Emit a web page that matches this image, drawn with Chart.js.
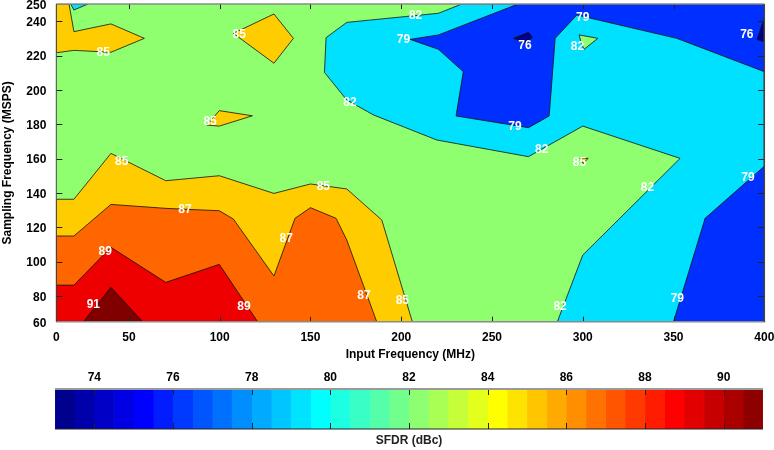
<!DOCTYPE html>
<html><head><meta charset="utf-8">
<script src="https://cdn.jsdelivr.net/npm/chart.js@4"></script>
<style>
html,body{margin:0;padding:0;background:#fff;}
#wrap{position:relative;width:774px;height:450px;overflow:hidden;}
#c1{position:absolute;left:0;top:0;}
#c2{position:absolute;left:0;top:362px;}
</style></head><body>
<div id="wrap">
<canvas id="c1" width="774" height="362"></canvas>
<canvas id="c2" width="774" height="88"></canvas>
</div>
<script>
// ---------- axes ----------
const xTickValues = [10, 50, 100, 150, 200, 250, 300, 350, 400];
const xTickLabels = ['0', '50', '100', '150', '200', '250', '300', '350', '400'];
const yTickValues = [65, 80, 100, 120, 140, 160, 180, 200, 220, 240, 250];
const yTickLabels = ['60', '80', '100', '120', '140', '160', '180', '200', '220', '240', '250'];
const xMarkValues = [50, 100, 150, 200, 250, 300, 350];
const yMarkValues = [80, 100, 120, 140, 160, 180, 200, 220, 240];
const cbTickValues = [74, 76, 78, 80, 82, 84, 86, 88, 90];
const cbMin = 73, cbMax = 91, cbBands = 36;

// ---------- contour regions (MHz, MSPS) ----------
const region82to85 = [[10,65],[400,65],[400,250],[10,250],[10,65]];
const regionBelow82 = [[233.4,250],[220.5,244.6],[170,239.3],[158.6,230.4],[157.7,210.2],[170,194.1],[184.7,185.4],[219.6,170.8],[270.1,161.1],[300,178.9],[353.6,160.1],[300,103.8],[286,65],[400,65],[400,250],[233.4,250]];
const islandAbove82 = [[298,232],[308.3,230],[300.7,223.6],[299,227.9],[298,232]];
const tinyAbove85 = [[298.4,160.1],[303,160.1],[300.2,157.2],[298.4,160.1]];
const regionBelow79Top = [[264.4,250],[220.5,232],[204.9,229.4],[220.5,223.6],[234.2,210.6],[230.2,184.8],[270.1,178],[281.5,184.8],[284.8,230],[296.7,243.6],[351.8,230],[400,210.6],[400,250],[264.4,250]];
const regionBelow76A = [[261.8,230],[270.1,233.5],[272.3,230.6],[268.3,227.1],[261.8,230]];
const regionBelow76B = [[400,241.7],[396,229.4],[400,228],[400,241.7]];
const regionBelow79Bottom = [[400,155.5],[367.4,125.2],[350,65],[400,65],[400,155.5]];
const cornerBelow82 = [[17.9,250],[27.5,250],[19.7,246.5],[17.9,250]];
const above85TopLeft = [[10,250],[17,250],[19.7,233.9],[40.1,238.4],[58.5,230],[40.1,221.9],[19.7,223],[10,221.6],[10,250]];
const above85Diamond = [[107.5,232.9],[129.9,244.2],[140.6,230],[129.9,215.5],[107.5,232.9]];
const above85Small = [[92.9,179.5],[99.8,187.9],[118,184.9],[99.8,178.9],[92.9,179.5]];
const above85Bottom = [[10,65],[10,136.3],[19.7,136.3],[40.1,163],[70.3,147.1],[99.8,150],[129.9,139.7],[150,145.2],[170,142.3],[189.3,124.2],[206.1,65],[10,65]];
const above87 = [[10,65],[10,114.9],[19.7,114.9],[40.1,133.3],[70.3,131],[99.8,129.6],[107.5,124.8],[129.9,91.6],[141.5,125.2],[150,131.4],[164.1,125.2],[170,112.6],[186.5,65],[10,65]];
const above89 = [[10,65],[10,86.3],[19.7,86.3],[40.1,108.3],[70.3,87.9],[99.8,98.4],[120.9,65],[10,65]];
const above91 = [[24.9,65],[40.1,85],[57.6,65],[24.9,65]];

// ---------- contour labels ----------
const contourLabelText = ['85','85','82','79','76','82','79','76','85','82','79','82','85','85','85','82','79','87','87','89','87','85','91','89','82','79'];
const contourLabelX = [35.8,110.8,207.9,201.2,268.2,297.1,300.0,390.4,94.7,171.8,262.7,277.4,298.2,46.0,157.1,335.6,391.0,80.9,136.6,36.9,179.5,200.6,30.4,113.4,287.5,352.1];
const contourLabelY = [221.6,232.3,243.2,229.0,225.7,225.1,242.2,232.3,181.5,192.5,178.4,165.0,157.6,158.2,143.7,143.3,149.0,130.0,113.1,105.8,80.3,77.0,74.8,73.7,73.6,78.3];

// ---------- colors ----------
const C = {navy:'#00008c', blue:'#0030ff', cyan:'#00e0ff', green:'#8fff70', yellow:'#ffcc00', orange:'#ff6600', red:'#ee0000', dred:'#800000'};

const layers = [
  [region82to85, C.green, false],
  [regionBelow82, C.cyan, true],
  [islandAbove82, C.green, true],
  [tinyAbove85, C.yellow, true],
  [regionBelow79Top, C.blue, true],
  [regionBelow76A, C.navy, true],
  [regionBelow76B, C.navy, true],
  [regionBelow79Bottom, C.blue, true],
  [cornerBelow82, C.cyan, true],
  [above85TopLeft, C.yellow, true],
  [above85Diamond, C.yellow, true],
  [above85Small, C.yellow, true],
  [above85Bottom, C.yellow, true],
  [above87, C.orange, true],
  [above89, C.red, true],
  [above91, C.dred, true]
];

const FONT = '"Liberation Sans", Arial, Helvetica, sans-serif';
const boldFont = {family: FONT, size: 12, weight: 'bold'};

const datasets = layers.map((L, i) => ({
  data: L[0].map(([x, y]) => ({x, y})),
  backgroundColor: L[1],
  borderColor: L[2] ? '#111' : 'rgba(0,0,0,0)',
  borderWidth: L[2] ? 0.8 : 0,
  fill: 'shape',
  pointRadius: 0,
  tension: 0,
  order: layers.length - i
}));

const zeroPad = s => { s.paddingTop = 0; s.paddingBottom = 0; s.paddingLeft = 0; s.paddingRight = 0; };

const overlayPlugin = {
  id: 'overlay',
  afterDatasetsDraw(chart) {
    const {ctx, chartArea: a, scales: {x, y}} = chart;
    ctx.save();
    ctx.font = 'bold 12px ' + FONT;
    ctx.fillStyle = '#fff';
    ctx.textAlign = 'center';
    ctx.textBaseline = 'middle';
    contourLabelText.forEach((t, i) => ctx.fillText(t, x.getPixelForValue(contourLabelX[i]), y.getPixelForValue(contourLabelY[i])));
    const ln = (x1, y1, x2, y2) => { ctx.beginPath(); ctx.moveTo(x1, y1); ctx.lineTo(x2, y2); ctx.stroke(); };
    ctx.strokeStyle = '#222'; ctx.lineWidth = 1;
    xMarkValues.forEach(v => {
      const p = Math.round(x.getPixelForValue(v)) + 0.5;
      ln(p, a.bottom, p, a.bottom - 5);
      ln(p, a.top, p, a.top + 5);
    });
    yMarkValues.forEach(v => {
      const p = Math.round(y.getPixelForValue(v)) + 0.5;
      ln(a.left, p, a.left + 6, p);
      ln(a.right, p, a.right - 6, p);
    });
    ctx.strokeStyle = '#8a8a8a'; ctx.lineWidth = 1.5;
    ln(a.left, a.top, a.right, a.top);
    ln(a.left, a.bottom, a.right + 1, a.bottom);
    ctx.strokeStyle = '#444'; ctx.lineWidth = 1;
    ln(a.left, a.top, a.left, a.bottom);
    ctx.lineWidth = 1.5;
    ln(a.right, a.top, a.right, a.bottom);
    ctx.restore();
  }
};

new Chart(document.getElementById('c1'), {
  type: 'line',
  data: {datasets},
  options: {
    responsive: false, animation: false,
    layout: {autoPadding: false, padding: {top: 4, right: 9.7, left: 0, bottom: 0}},
    plugins: {legend: {display: false}, tooltip: {enabled: false}},
    scales: {
      x: {
        type: 'linear', min: 10, max: 400, position: 'bottom',
        afterBuildTicks: s => { s.ticks = xTickValues.map(v => ({value: v})); },
        afterFit: s => { s.height = 40.3; zeroPad(s); },
        grid: {display: false, drawTicks: false}, border: {display: false},
        ticks: {padding: 9, maxRotation: 0, autoSkip: false, color: '#000', font: boldFont,
                callback: (v, i) => xTickLabels[i]},
        title: {display: true, text: 'Input Frequency (MHz)', color: '#000', font: boldFont, padding: {top: 0, bottom: 0}}
      },
      y: {
        type: 'linear', min: 65, max: 250, position: 'left',
        afterBuildTicks: s => { s.ticks = yTickValues.map(v => ({value: v})); },
        afterFit: s => { s.width = 56.3; zeroPad(s); },
        grid: {display: false, drawTicks: false}, border: {display: false},
        ticks: {padding: 10, labelOffset: 1.5, autoSkip: false, color: '#000', font: boldFont,
                callback: (v, i) => yTickLabels[i]},
        title: {display: true, text: 'Sampling Frequency (MSPS)', color: '#000', font: boldFont, padding: {top: 0, bottom: 0}}
      }
    }
  },
  plugins: [overlayPlugin]
});

// ---------- colorbar ----------
function jet(t) {
  const c = v => Math.round(255 * Math.max(0, Math.min(1, v)));
  return `rgb(${c(Math.min(4*t-1.5, -4*t+4.5))},${c(Math.min(4*t-0.5, -4*t+3.5))},${c(Math.min(4*t+0.5, -4*t+2.5))})`;
}
const bandW = (cbMax - cbMin) / cbBands;
const cbDatasets = [];
for (let k = 0; k < cbBands; k++) {
  const a = cbMin + k * bandW, b = a + bandW;
  const col = jet((k + 0.5) / cbBands);
  cbDatasets.push({data: [[a, b]], backgroundColor: col, borderColor: col, borderWidth: 0.6, borderSkipped: false,
                   barPercentage: 1, categoryPercentage: 1, grouped: false, xAxisID: 'x'});
}
const cbPlugin = {
  id: 'cbframe',
  afterDatasetsDraw(chart) {
    const {ctx, chartArea: a, scales: {x}} = chart;
    const ln = (x1, y1, x2, y2) => { ctx.beginPath(); ctx.moveTo(x1, y1); ctx.lineTo(x2, y2); ctx.stroke(); };
    ctx.save();
    ctx.strokeStyle = '#222'; ctx.lineWidth = 1;
    cbTickValues.forEach(v => {
      const p = Math.round(x.getPixelForValue(v)) + 0.5;
      ln(p, a.top, p, a.top + 6);
      ln(p, a.bottom, p, a.bottom - 6);
    });
    ctx.strokeStyle = '#9a9a9a'; ctx.lineWidth = 2;
    ln(a.left, a.top, a.right, a.top);
    ctx.strokeStyle = '#222'; ctx.lineWidth = 1;
    ln(a.left, a.bottom, a.right, a.bottom);
    ctx.restore();
  }
};
new Chart(document.getElementById('c2'), {
  type: 'bar',
  data: {labels: ['SFDR'], datasets: cbDatasets},
  options: {
    indexAxis: 'y', responsive: false, animation: false,
    layout: {autoPadding: false, padding: {left: 55, right: 11, top: 0, bottom: 0}},
    plugins: {legend: {display: false}, tooltip: {enabled: false}},
    scales: {
      y: {type: 'category', display: false},
      x: {
        type: 'linear', min: cbMin, max: cbMax, position: 'top',
        afterBuildTicks: s => { s.ticks = cbTickValues.map(v => ({value: v})); },
        afterFit: s => { s.height = 27; zeroPad(s); },
        grid: {display: false, drawTicks: false}, border: {display: false},
        ticks: {padding: 4, autoSkip: false, maxRotation: 0, color: '#000', font: boldFont, callback: v => String(v)}
      },
      x2: {
        type: 'linear', min: cbMin, max: cbMax, position: 'bottom',
        afterFit: s => { s.height = 21; zeroPad(s); },
        grid: {display: false, drawTicks: false}, border: {display: false},
        ticks: {display: false},
        title: {display: true, text: 'SFDR (dBc)', color: '#222', font: boldFont, padding: {top: 0, bottom: 2}}
      }
    }
  },
  plugins: [cbPlugin]
});
</script>
</body></html>
